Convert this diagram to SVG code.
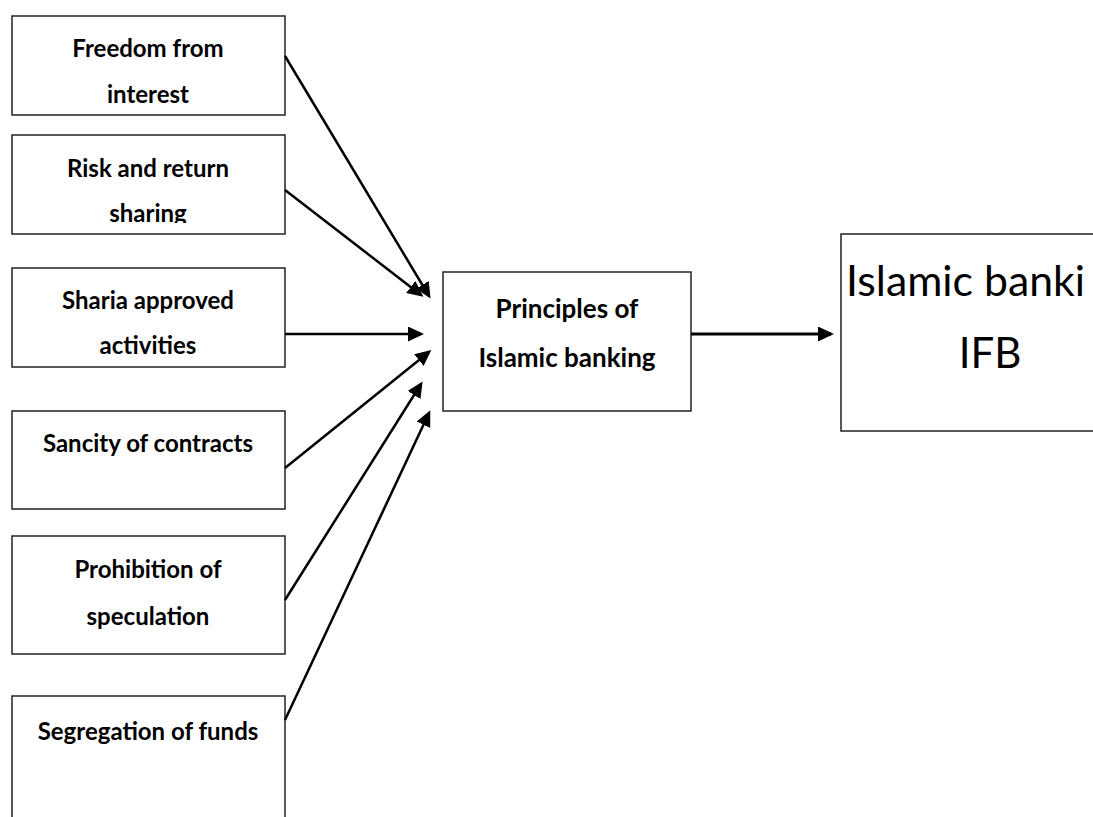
<svg xmlns="http://www.w3.org/2000/svg" width="1093" height="817" viewBox="0 0 1093 817">
  <style>
    .box { fill: #ffffff; stroke: #222222; stroke-width: 1.5; }
    .lbl { font-family: Lato, "Open Sans", sans-serif; font-weight: bold; font-size: 24px; fill: #000000; text-anchor: middle; }
    .mid { font-size: 26px; }
    .big { font-family: Lato, "Open Sans", sans-serif; font-weight: normal; font-size: 42px; fill: #000000; }
    .conn { stroke: #000000; stroke-width: 2.5; fill: none; marker-end: url(#ah); }
  </style>
  <defs>
    <marker id="ah" markerUnits="userSpaceOnUse" markerWidth="17" markerHeight="15" refX="13" refY="7.5" orient="auto">
      <path d="M0,0 L16,7.5 L0,15 z" fill="#000000"/>
    </marker>
    <clipPath id="clip2"><rect x="12" y="135" width="273" height="88"/></clipPath>
  </defs>
  <rect width="1093" height="817" fill="#ffffff"/>

  <g id="n1">
    <rect class="box" x="12" y="16" width="273" height="99"/>
    <text class="lbl" x="148" y="57">Freedom from</text>
    <text class="lbl" x="148" y="103">interest</text>
  </g>
  <g id="n2">
    <rect class="box" x="12" y="135" width="273" height="99"/>
    <g clip-path="url(#clip2)">
      <text class="lbl" x="148" y="177">Risk and return</text>
      <text class="lbl" x="148" y="222">sharing</text>
    </g>
  </g>
  <g id="n3">
    <rect class="box" x="12" y="268" width="273" height="99"/>
    <text class="lbl" x="148" y="309">Sharia approved</text>
    <text class="lbl" x="148" y="354">activities</text>
  </g>
  <g id="n4">
    <rect class="box" x="12" y="411" width="273" height="98"/>
    <text class="lbl" x="148" y="452">Sancity of contracts</text>
  </g>
  <g id="n5">
    <rect class="box" x="12" y="536" width="273" height="118"/>
    <text class="lbl" x="148" y="578">Prohibition of</text>
    <text class="lbl" x="148" y="625">speculation</text>
  </g>
  <g id="n6">
    <rect class="box" x="12" y="696" width="273" height="140"/>
    <text class="lbl" x="148" y="740">Segregation of funds</text>
  </g>
  <g id="center">
    <rect class="box" x="443" y="272" width="248" height="139"/>
    <text class="lbl mid" x="567" y="318">Principles of</text>
    <text class="lbl mid" x="567" y="367">Islamic banking</text>
  </g>
  <g id="ifb">
    <path class="box" d="M1093,234 L841,234 L841,431 L1093,431"/>
    <text class="big" x="846" y="296" textLength="239" lengthAdjust="spacingAndGlyphs">Islamic banki</text>
    <text class="big" x="990" y="368" text-anchor="middle">IFB</text>
  </g>

  <g id="connectors">
    <line class="conn" x1="285" y1="56" x2="429" y2="296"/>
    <line class="conn" x1="285" y1="190" x2="421" y2="295"/>
    <line class="conn" x1="285" y1="334" x2="421" y2="334"/>
    <line class="conn" x1="285" y1="468" x2="429" y2="352"/>
    <line class="conn" x1="285" y1="600" x2="421" y2="384"/>
    <line class="conn" x1="285" y1="720" x2="429" y2="413"/>
    <line class="conn" x1="691" y1="334" x2="831" y2="334" style="stroke-width:3"/>
  </g>
</svg>
